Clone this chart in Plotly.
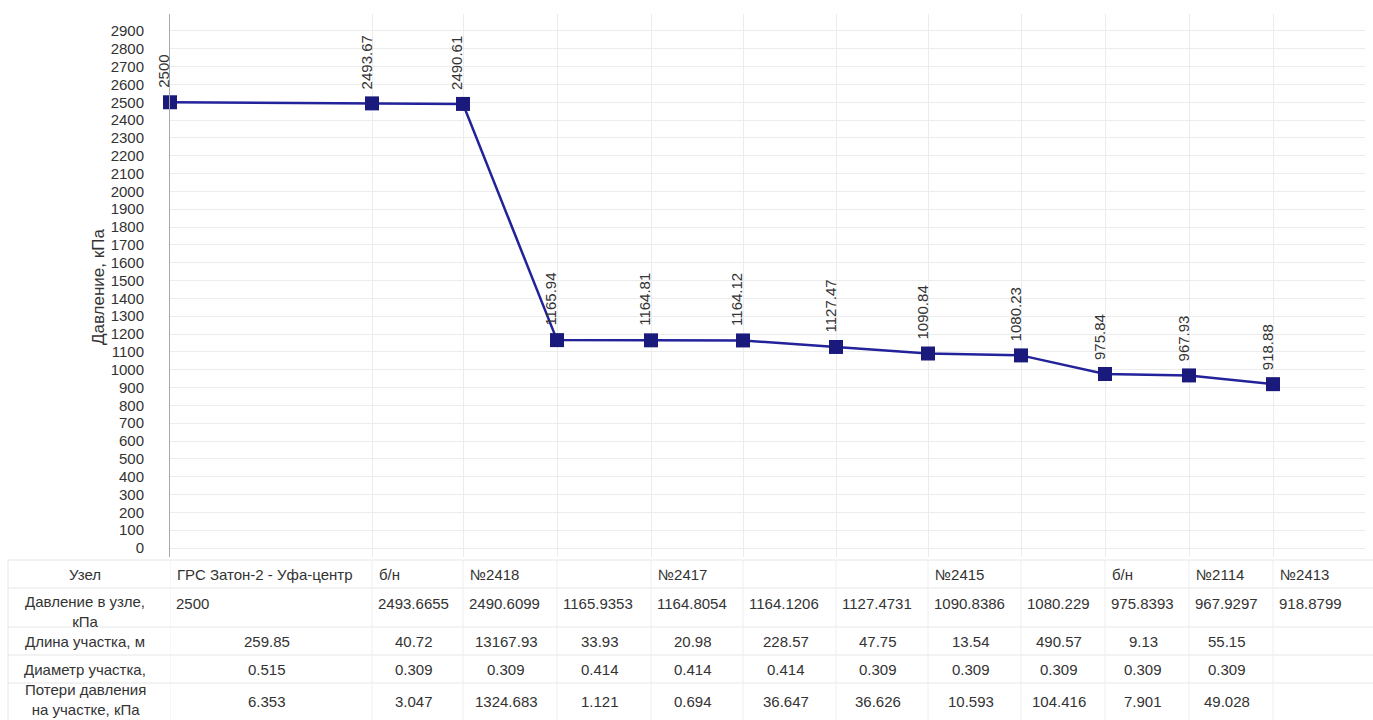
import plotly.graph_objects as go

# ---------------- data ----------------
nodes = ["ГРС Затон-2 - Уфа-центр", "б/н", "№2418", "", "№2417", "", "",
         "№2415", "", "б/н", "№2114", "№2413"]
pressure = [2500, 2493.6655, 2490.6099, 1165.9353, 1164.8054, 1164.1206,
            1127.4731, 1090.8386, 1080.229, 975.8393, 967.9297, 918.8799]
seg_length = ["259.85", "40.72", "13167.93", "33.93", "20.98", "228.57",
              "47.75", "13.54", "490.57", "9.13", "55.15"]
seg_diam = ["0.515", "0.309", "0.309", "0.414", "0.414", "0.414",
            "0.309", "0.309", "0.309", "0.309", "0.309"]
seg_loss = ["6.353", "3.047", "1324.683", "1.121", "0.694", "36.647",
            "36.626", "10.593", "104.416", "7.901", "49.028"]
row_titles = ["Узел", "Давление в узле,<br>кПа", "Длина участка, м",
              "Диаметр участка,", "Потери давления<br>на участке, кПа"]
y_ticks = list(range(0, 3000, 100))
y_title = "Давление, кПа"

# ---------------- layout constants ----------------
W, H = 1373, 720
PLOT_L, PLOT_R, PLOT_T, PLOT_B = 170, 1365, 14, 557
COL_W = [202, 91, 94, 94, 92, 93, 92, 93, 84, 84, 84, 92]  # table column widths (px)
FONT = "Liberation Sans, Arial, sans-serif"
TXT = "#333333"
LINE_C = "#22229a"
MARK_C = "#1a1a7c"
GRID_C = "#ececec"

xs = []
acc = 0
for w in COL_W:
    xs.append(acc)
    acc += w
x_end = acc


def py(p):  # pixel row -> paper y
    return 1 - p / H


fig = go.Figure()
fig.add_trace(go.Scatter(
    x=xs, y=pressure, mode="lines+markers",
    line=dict(color=LINE_C, width=2.5),
    marker=dict(symbol="square", size=14, color=MARK_C),
    hoverinfo="skip", showlegend=False, cliponaxis=False,
))

ann = []
# data labels
for x, p in zip(xs, pressure):
    ann.append(dict(x=x, y=p, xref="x", yref="y", text=format(round(p, 2), "g"),
                    textangle=-90, showarrow=False, yanchor="bottom", xanchor="center",
                    yshift=12, xshift=-6, font=dict(family=FONT, size=15, color=TXT)))

# y-axis title
ann.append(dict(x=98 / W, y=py(287), xref="paper", yref="paper", text=y_title,
                textangle=-90, showarrow=False, xanchor="center", yanchor="middle",
                font=dict(family=FONT, size=17, color=TXT)))

# table
row_y = [574, 603, 641, 669, 701]
row_title_y = [574, 611, 641, 669, 699]
for t, yy in zip(row_titles, row_title_y):
    ann.append(dict(x=85 / W, y=py(yy), xref="paper", yref="paper", text=t,
                    showarrow=False, xanchor="center", yanchor="middle", align="center",
                    font=dict(family=FONT, size=15, color=TXT)))
for i, x in enumerate(xs):
    ann.append(dict(x=x, y=py(row_y[0]), xref="x", yref="paper", text=nodes[i],
                    showarrow=False, xanchor="left", yanchor="middle", xshift=5,
                    font=dict(family=FONT, size=15, color=TXT)))
    ann.append(dict(x=x, y=py(row_y[1]), xref="x", yref="paper", text=str(pressure[i]),
                    showarrow=False, xanchor="left", yanchor="middle", xshift=4,
                    font=dict(family=FONT, size=15, color=TXT)))
for rvals, yy in zip([seg_length, seg_diam, seg_loss], row_y[2:]):
    for i, v in enumerate(rvals):
        xc = (xs[i] + xs[i + 1]) / 2
        ann.append(dict(x=xc, y=py(yy), xref="x", yref="paper", text=v,
                        showarrow=False, xanchor="center", yanchor="middle", xshift=-4,
                        font=dict(family=FONT, size=15, color=TXT)))

shapes = []
for b in [560, 588, 627, 655, 683]:
    shapes.append(dict(type="line", xref="paper", yref="paper", x0=8 / W, x1=1,
                       y0=py(b), y1=py(b), line=dict(color="#e6e6e6", width=1)))
shapes.append(dict(type="line", xref="paper", yref="paper", x0=8 / W, x1=8 / W,
                   y0=py(560), y1=0, line=dict(color="#e6e6e6", width=1)))
for x in xs:
    shapes.append(dict(type="line", xref="x", yref="paper", x0=x, x1=x,
                       y0=py(560), y1=0, line=dict(color="#eeeeee", width=1)))

fig.update_layout(
    width=W, height=H, margin=dict(l=0, r=0, t=0, b=0),
    paper_bgcolor="white", plot_bgcolor="white",
    font=dict(family=FONT, color=TXT),
    xaxis=dict(domain=[PLOT_L / W, PLOT_R / W], range=[0, x_end], tickvals=xs,
               showticklabels=False, showgrid=True, gridcolor=GRID_C, zeroline=False,
               showline=False, fixedrange=True),
    yaxis=dict(domain=[py(PLOT_B), py(PLOT_T)], range=[-50.5, 2995], tickvals=y_ticks,
               showgrid=True, gridcolor=GRID_C, zeroline=False, showline=True,
               linecolor="#a8a8a8", linewidth=1, ticks="", ticklabelstandoff=22,
               tickfont=dict(family=FONT, size=15, color=TXT), fixedrange=True),
    annotations=ann, shapes=shapes, showlegend=False,
)

fig.write_html("out.html", config={"displayModeBar": False},
               post_script="document.body.style.margin='0';")
